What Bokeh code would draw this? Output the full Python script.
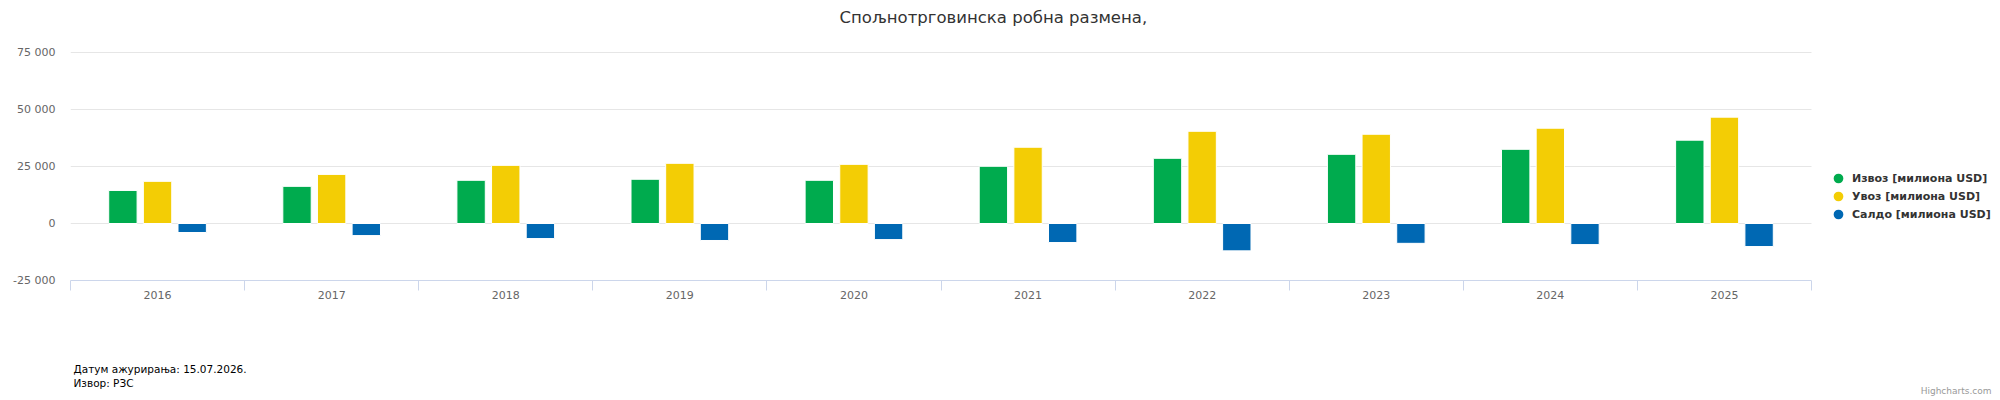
from bokeh.plotting import figure
from bokeh.models import (ColumnDataSource, Range1d, FixedTicker, Legend, LegendItem, Title,
                          BoxAnnotation)
from bokeh.transform import dodge
from bokeh.embed import file_html
from bokeh.resources import INLINE

# ---- data (millions USD) ----
years = ["2016", "2017", "2018", "2019", "2020", "2021", "2022", "2023", "2024", "2025"]
export_vals = [14500, 16300, 18950, 19400, 18950, 25100, 28600, 30350, 32550, 36550]
import_vals = [18500, 21550, 25500, 26400, 25950, 33450, 40450, 39150, 41800, 46650]
saldo_vals = [-3950, -5300, -6600, -7450, -7050, -8350, -12000, -8700, -9250, -10100]
series_names = ["Извоз [милиона USD]", "Увоз [милиона USD]", "Салдо [милиона USD]"]
y_tick_values = [-25000, 0, 25000, 50000, 75000]
y_tick_labels = ["-25 000", "0", "25 000", "50 000", "75 000"]
title_text = "Спољнотрговинска робна размена,"
footer_lines = ["Датум ажурирања: 15.07.2026.", "Извор: РЗС"]
credits_text = "Highcharts.com"

colors = ["#00AB4E", "#F3CD05", "#0068B3"]
FONT = "DejaVu Sans"

n = len(years)
xpos = [i + 0.5 for i in range(n)]
src = ColumnDataSource(dict(x=xpos, exp=export_vals, imp=import_vals, sal=saldo_vals))

# plot area spans to the right edge so the legend (inside it) is not clipped;
# the categories occupy the first 1741 px of the 1930 px frame
frame_w = 2000 - 70
cat_w = 1741
p = figure(width=2000, height=400, output_backend="svg", toolbar_location=None,
           x_range=Range1d(0, n * frame_w / cat_w), y_range=Range1d(-25000, 75450),
           min_border_left=70, min_border_right=0, min_border_top=51, min_border_bottom=120)
p.outline_line_color = None
p.background_fill_color = "white"
p.border_fill_color = "white"
p.title.visible = False

bw = 0.163
off = 0.199
p.vbar(x=dodge("x", -off), top="exp", bottom=0, width=bw, source=src,
       fill_color=colors[0], line_color="white", line_width=1)
p.vbar(x=dodge("x", 0), top="imp", bottom=0, width=bw, source=src,
       fill_color=colors[1], line_color="white", line_width=1)
p.vbar(x=dodge("x", off), top="sal", bottom=0, width=bw, source=src,
       fill_color=colors[2], line_color="white", line_width=1)

# axes
p.xgrid.visible = False
p.ygrid.grid_line_color = "#e6e6e6"
p.ygrid.ticker = FixedTicker(ticks=y_tick_values)

p.yaxis.ticker = FixedTicker(ticks=y_tick_values)
p.yaxis.major_label_overrides = {int(v): l for v, l in zip(y_tick_values, y_tick_labels)}
p.yaxis.axis_line_color = None
p.yaxis.major_tick_line_color = None
p.yaxis.minor_tick_line_color = None
p.yaxis.major_tick_out = 0
p.yaxis.major_tick_in = 0
p.yaxis.major_label_standoff = 15
p.yaxis.major_label_text_font = FONT
p.yaxis.major_label_text_font_size = "11px"
p.yaxis.major_label_text_color = "#666666"

p.xaxis.ticker = FixedTicker(ticks=xpos, minor_ticks=list(range(n + 1)))
p.xaxis.bounds = (0, n)
p.xaxis.major_label_overrides = {x: y for x, y in zip(xpos, years)}
p.xaxis.axis_line_color = "#ccd6eb"
p.xaxis.major_tick_line_color = None
p.xaxis.major_tick_out = 0
p.xaxis.major_tick_in = 0
p.xaxis.minor_tick_line_color = "#ccd6eb"
p.xaxis.minor_tick_out = 10
p.xaxis.minor_tick_in = 0
p.xaxis.major_label_standoff = 0
p.xaxis.major_label_text_font = FONT
p.xaxis.major_label_text_font_size = "11px"
p.xaxis.major_label_text_color = "#666666"

# white band right of the categories hides the grid lines behind the legend
p.add_layout(BoxAnnotation(left=n, fill_color="white", fill_alpha=1.0, line_color=None))

# circle legend symbols: zero-size scatter on the real data
d1 = p.scatter(x=dodge("x", -off), y="exp", source=src, marker="circle", size=0,
               fill_color=colors[0], line_color=colors[0], line_width=2.5)
d2 = p.scatter(x=dodge("x", 0), y="imp", source=src, marker="circle", size=0,
               fill_color=colors[1], line_color=colors[1], line_width=2.5)
d3 = p.scatter(x=dodge("x", off), y="sal", source=src, marker="circle", size=0,
               fill_color=colors[2], line_color=colors[2], line_width=2.5)
legend = Legend(items=[LegendItem(label=series_names[0], renderers=[d1]),
                       LegendItem(label=series_names[1], renderers=[d2]),
                       LegendItem(label=series_names[2], renderers=[d3])],
                location=(1756, 57), orientation="vertical",
                glyph_width=24, glyph_height=18, label_height=18, spacing=0,
                padding=0, margin=0, label_standoff=2,
                border_line_color=None, background_fill_alpha=0,
                label_text_font=FONT, label_text_font_size="11px",
                label_text_font_style="bold", label_text_color="#333333")
p.add_layout(legend, "center")

# title (above): spacer nearest the frame, then the title itself
p.add_layout(Title(text=" ", text_font_size="1px", standoff=21), "above")
p.add_layout(Title(text=title_text, align="left", offset=769, standoff=0,
                   vertical_align="middle", text_font=FONT, text_font_size="16.5px",
                   text_font_style="normal", text_color="#333333"), "above")

# footer (below): spacer, two source lines, credits
p.add_layout(Title(text=" ", text_font_size="1px", standoff=57), "below")
p.add_layout(Title(text=footer_lines[0], align="left", offset=3, standoff=0,
                   vertical_align="middle", text_font=FONT, text_font_size="10.5px",
                   text_font_style="normal", text_color="#000000"), "below")
p.add_layout(Title(text=footer_lines[1], align="left", offset=3, standoff=0,
                   vertical_align="middle", text_font=FONT, text_font_size="10.5px",
                   text_font_style="normal", text_color="#000000"), "below")
p.add_layout(Title(text=credits_text, align="right", offset=9, standoff=-9,
                   vertical_align="middle", text_font=FONT, text_font_size="9px",
                   text_font_style="normal", text_color="#999999"), "below")

open("out.html", "w").write(file_html(p, INLINE))
